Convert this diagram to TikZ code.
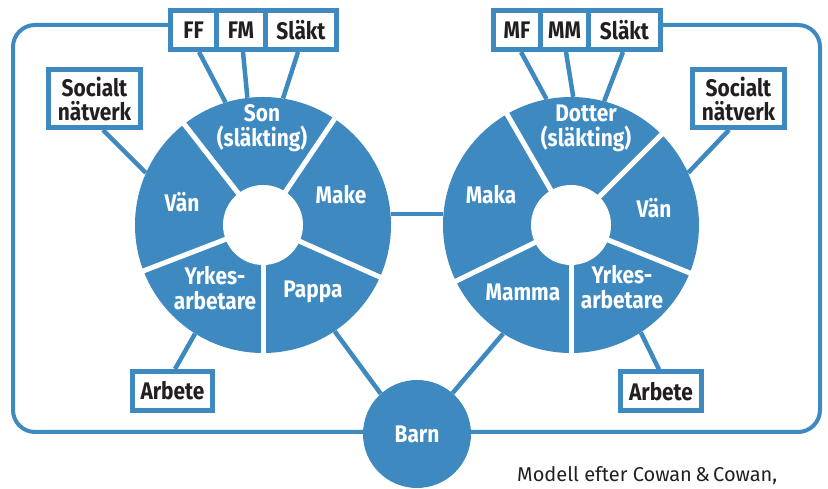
\documentclass[tikz,border=0pt]{standalone}
\usepackage{fontspec}
\setmainfont{Fira Sans}
\newfontfamily\cond{Fira Sans}[FakeStretch=0.87]
\definecolor{cblue}{RGB}{62,137,192}
\definecolor{ink}{RGB}{35,31,32}
\begin{document}
\begin{tikzpicture}[x=1pt,y=1pt,
  seg/.style={text=white, font=\cond\bfseries\fontsize{24}{25}\selectfont, align=center, inner sep=0pt},
  wheel/.style={circle, fill=cblue, minimum size=256pt, inner sep=0pt},
  hole/.style={circle, fill=white, minimum size=80pt, inner sep=0pt},
  boxn/.style={draw=cblue, line width=5pt, fill=white, text=ink, font=\cond\bfseries\fontsize{24}{24}\selectfont, align=center, inner sep=0pt, minimum height=39pt},
  link/.style={draw=cblue, line width=4.5pt},
  frame/.style={draw=cblue, line width=4pt, rounded corners=22pt},
  gap/.style={draw=white, line width=5pt}]
\useasboundingbox (0,0) rectangle (828,489);

% frame corners
\coordinate (fa) at (13,57);
\coordinate (fb) at (820,464);

% wheels
\node[wheel] (wl) at (263,264) {};
\node[wheel] (wr) at (571,264) {};

% boxes
\node[boxn, minimum width=46pt] (ff) at (193.5,459) {FF};
\node[boxn, minimum width=49pt] (fm) at (241,459) {FM};
\node[boxn, minimum width=71pt] (sl) at (301,459) {Släkt};
\node[boxn, minimum width=47pt] (mf) at (517,459) {MF};
\node[boxn, minimum width=48pt] (mm) at (564.5,459) {MM};
\node[boxn, minimum width=72pt] (sr) at (624.5,459) {Släkt};
\node[boxn, minimum width=92pt, minimum height=58pt] (snl) at (94.5,390.5) {Socialt\\nätverk};
\node[boxn, minimum width=92pt, minimum height=58pt] (snr) at (738.5,390.5) {Socialt\\nätverk};
\node[boxn, minimum width=80pt] (arl) at (172.5,98) {Arbete};
\node[boxn, minimum width=81pt] (arr) at (661,97.5) {Arbete};

% frame
\path[frame] (ff.west |- fb) -| (fa) -| (fb) -- (sr.east |- fb);

% redraw end boxes over the frame ends
\node[boxn, minimum width=46pt] at (ff) {FF};
\node[boxn, minimum width=72pt] at (sr) {Släkt};

\node[circle, fill=cblue, minimum size=108pt, inner sep=0pt, text=white, font=\cond\bfseries\fontsize{24}{25}\selectfont] (barn) at (417,55) {Barn};

% connectors
\path[link] ([xshift=5.5pt]ff.south) -- (wl.107);
\path[link] ([xshift=2pt]fm.south) -- (wl.97);
\path[link] ([xshift=-3pt]sl.south) -- (wl.81);
\path[link] ([xshift=4pt]mf.south) -- (wr.101);
\path[link] ([xshift=1.5pt]mm.south) -- (wr.89);
\path[link] ([xshift=-1.5pt]sr.south) -- (wr.75);
\path[link] ([xshift=8.5pt]snl.south) -- (wl.156);
\path[link] ([xshift=-9.5pt]snr.south) -- (wr.24);
\path[link] ([xshift=2.5pt]arl.north) -- (wl.238);
\path[link] ([xshift=-2pt]arr.north) -- (wr.-57);
\path[link] (wl.5) -- (wr.175);
\path[link] (wl.-56) -- (barn.132);
\path[link] (wr.-122) -- (barn.49);

% dividers
\foreach \a in {128,56,-24,-90,201} \path[gap] (wl.center) -- ++(\a:131pt);
\foreach \a in {120,45,-22,-90,206} \path[gap] (wr.center) -- ++(\a:131pt);
\node[hole] (hl) at (wl) {};
\node[hole] (hr) at (wr) {};

% segment labels
\node[seg] (son) at (262,361) {Son\\(släkting)};
\node[seg] (make) at (341,294) {Make};
\node[seg] (vanl) at (182,287) {Vän};
\node[seg] (yrl) at (215,201) {Yrkes-\\arbetare};
\node[seg] (pappa) at (313,197) {Pappa};
\node[seg] (dotter) at (586,361) {Dotter\\(släkting)};
\node[seg] (maka) at (491,294) {Maka};
\node[seg] (vanr) at (654,281) {Vän};
\node[seg] (mamma) at (523,197) {Mamma};
\node[seg] (yrr) at (622,202) {Yrkes-\\arbetare};

% caption
\node[anchor=base west, inner sep=0pt, text=ink, font=\fontsize{20}{22}\selectfont] (cap) at (517,7) {Modell efter Cowan\,\&\,Cowan,};
\end{tikzpicture}
\end{document}
